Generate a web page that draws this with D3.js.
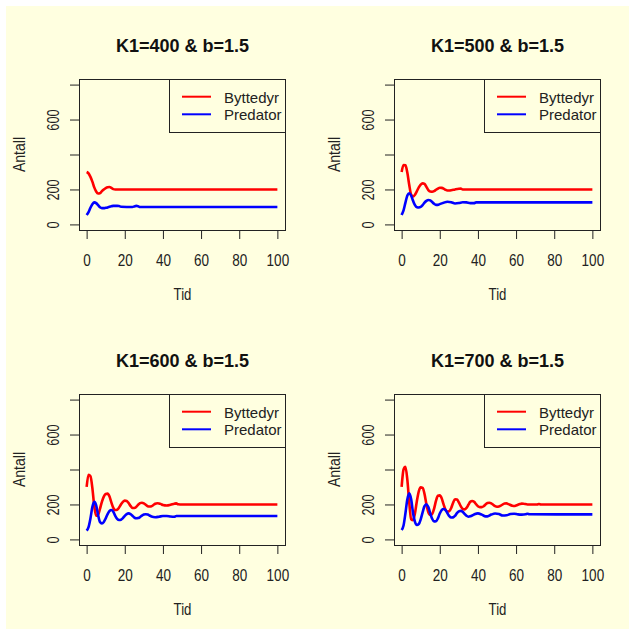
<!DOCTYPE html>
<html>
<head>
<meta charset="utf-8">
<script src="https://cdnjs.cloudflare.com/ajax/libs/d3/7.8.5/d3.min.js"></script>
<style>
  html, body { margin: 0; padding: 0; background: #fff; }
  svg { display: block; font-family: "Liberation Sans", Arial, sans-serif; }
</style>
</head>
<body>
<div id="chart"></div>
<script>
// panel titles, axis ticks, legend
const titles = ['K1=400 & b=1.5', 'K1=500 & b=1.5', 'K1=600 & b=1.5', 'K1=700 & b=1.5'];
const xTicks = [0, 20, 40, 60, 80, 100];
const yTicks = [0, 200, 400, 600, 800];
const yLabelled = [0, 200, 600];
const seriesNames = ['Byttedyr', 'Predator'];
const seriesColors = ['#ff0000', '#0000ff'];

// [tid, antall]
const prey400 = [[0,300],[1,292],[2,272],[3,245],[4,212],[5,188],[6,177],[7,178],[8,190],[9,200],[10,208],[11,213],[12,214],[13,209],[14,202],[15,200],[20,200],[100,200]];
const pred400 = [[0,54],[1,70],[2,95],[3,115],[4,126],[5,122],[6,110],[7,98],[8,93],[9,93],[10,95],[11,97],[12,101],[13,104],[14,106],[16,106],[17,105],[18,101],[24,100],[25,103],[26,106],[27,104],[28,100],[100,100]];

const prey500 = [[0,300],[1,340],[2,338],[3,295],[4,225],[5,170],[6,160],[7,170],[8,190],[9,212],[10,228],[11,235],[12,232],[13,215],[14,196],[15,188],[16,187],[17,190],[18,198],[19,205],[20,210],[21,209],[22,205],[23,198],[24,194],[25,194],[26,195],[28,200],[30,204],[31,205],[32,200],[100,200]];
const pred500 = [[0,54],[1,80],[2,125],[3,165],[4,178],[5,165],[6,135],[7,110],[8,98],[9,97],[10,100],[11,110],[12,125],[13,135],[14,140],[15,137],[16,128],[17,118],[18,112],[19,112],[20,116],[22,124],[24,130],[26,127],[28,120],[30,122],[32,127],[34,126],[36,122],[38,122],[39,126],[100,126]];

const prey600 = [[0,300],[1,370],[2,362],[3,295],[4,190],[5,135],[6,140],[7,175],[8,215],[9,245],[10,260],[11,262],[12,245],[13,210],[14,180],[15,168],[16,170],[17,182],[18,200],[19,215],[20,222],[21,220],[22,208],[23,192],[24,180],[25,180],[26,186],[27,198],[28,207],[29,210],[30,206],[31,198],[32,190],[33,188],[34,190],[35,197],[36,204],[37,207],[38,206],[39,202],[40,197],[42,194],[44,198],[46,204],[47,206],[48,201],[50,200],[100,200]];
const pred600 = [[0,50],[1,70],[2,120],[3,185],[4,215],[5,195],[6,140],[7,100],[8,92],[9,100],[10,120],[11,145],[12,163],[13,168],[14,158],[15,135],[16,118],[17,111],[18,113],[19,122],[20,135],[21,145],[22,149],[23,145],[24,135],[25,125],[26,121],[27,122],[28,128],[29,136],[30,142],[31,144],[32,142],[33,137],[34,131],[36,127],[38,130],[40,134],[42,134],[44,131],[46,130],[47,134],[100,134]];

const prey700 = [[0,300],[1,400],[2,415],[3,340],[4,210],[5,115],[6,110],[7,150],[8,220],[9,275],[10,298],[11,295],[12,260],[13,200],[14,155],[15,140],[16,145],[17,175],[18,220],[19,250],[20,252],[21,235],[22,200],[23,170],[24,159],[25,162],[26,180],[27,210],[28,230],[29,228],[30,212],[31,190],[32,175],[33,172],[34,180],[35,198],[36,215],[37,220],[38,215],[39,202],[40,190],[41,185],[42,185],[43,190],[44,200],[45,208],[46,210],[47,206],[48,198],[49,190],[50,187],[51,188],[52,193],[54,205],[55,206],[56,202],[58,193],[59,191],[60,194],[62,202],[63,205],[64,204],[66,200],[71,200],[72,203],[73,200],[100,200]];
const pred700 = [[0,54],[1,80],[2,150],[3,230],[4,264],[5,230],[6,150],[7,100],[8,83],[9,88],[10,115],[11,155],[12,190],[13,201],[14,185],[15,150],[16,118],[17,103],[18,104],[19,120],[20,148],[21,168],[22,174],[23,168],[24,150],[25,133],[26,125],[27,126],[28,135],[29,150],[30,160],[31,163],[32,158],[33,146],[34,135],[35,130],[36,132],[38,143],[40,149],[42,142],[44,132],[45,132],[47,142],[49,148],[51,145],[53,137],[55,138],[57,145],[59,147],[61,143],[63,142],[65,144],[66,147],[67,144],[100,143]];

const panelSeries = [[prey400, pred400], [prey500, pred500], [prey600, pred600], [prey700, pred700]];

const width = 629;
const height = 629;
const cell = 315;
const box = { left: 79, right: 285, top: 79, bottom: 230 };
const ink = '#222';

const svg = d3.select('#chart')
  .append('svg')
  .attr('width', width)
  .attr('height', height);

svg.append('rect')
  .attr('x', 6).attr('y', 6)
  .attr('width', width - 6).attr('height', height - 6)
  .attr('fill', '#ffffe0');

const x = d3.scaleLinear().domain([-4, 104]).range([box.left, box.right]);
const y = d3.scaleLinear().domain([-32, 832]).range([box.bottom, box.top]);

const line = d3.line()
  .x(d => x(d[0]))
  .y(d => y(d[1]))
  .curve(d3.curveMonotoneX);

const drawPanel = (g, title, series) => {
  // series
  series.forEach((data, k) => {
    g.append('path')
      .datum(data)
      .attr('d', line)
      .attr('fill', 'none')
      .attr('stroke', seriesColors[k])
      .attr('stroke-width', 2.6)
      .attr('stroke-linejoin', 'round');
  });

  // x axis
  const xa = g.append('g')
    .attr('transform', `translate(0,${box.bottom})`)
    .call(d3.axisBottom(x).tickValues(xTicks).tickSize(9).tickSizeOuter(0))
    .attr('font-size', null).attr('font-family', null);
  xa.select('.domain').remove();
  xa.selectAll('line').attr('stroke', ink);
  xa.selectAll('text')
    .attr('y', 36).attr('dy', null)
    .attr('transform', 'scale(0.82,1)')
    .attr('fill', ink)
    .style('font-size', '16.5px');

  // y axis
  const ya = g.append('g')
    .attr('transform', `translate(${box.left},0)`)
    .call(d3.axisLeft(y).tickValues(yTicks).tickSize(9).tickSizeOuter(0)
      .tickFormat(d => yLabelled.includes(d) ? d : ''))
    .attr('font-size', null).attr('font-family', null);
  ya.select('.domain').remove();
  ya.selectAll('line').attr('stroke', ink);
  ya.selectAll('text')
    .attr('x', 0).attr('dy', null)
    .attr('transform', 'translate(-20,0) rotate(-90) scale(0.8,1)')
    .attr('text-anchor', 'middle')
    .attr('fill', ink)
    .style('font-size', '16px');

  // box
  g.append('rect')
    .attr('x', box.left + 0.5).attr('y', box.top + 0.5)
    .attr('width', box.right - box.left).attr('height', box.bottom - box.top)
    .attr('fill', 'none')
    .attr('stroke', ink);

  // labels
  const cx = (box.left + box.right) / 2 + 0.5;
  g.append('text')
    .attr('transform', `translate(${cx},51.7)`)
    .attr('text-anchor', 'middle')
    .style('font-size', '18px')
    .style('font-weight', 'bold')
    .attr('fill', '#111')
    .text(title);

  g.append('text')
    .attr('transform', `translate(${cx},300) scale(0.8,1)`)
    .attr('text-anchor', 'middle')
    .style('font-size', '16.5px')
    .attr('fill', ink)
    .text('Tid');

  g.append('text')
    .attr('transform', `translate(25,${(box.top + box.bottom) / 2}) rotate(-90) scale(0.85,1)`)
    .attr('text-anchor', 'middle')
    .style('font-size', '16.5px')
    .attr('fill', ink)
    .text('Antall');

  // legend
  g.append('rect')
    .attr('x', 169.5).attr('y', box.top + 0.5)
    .attr('width', box.right - 169).attr('height', 53)
    .attr('fill', '#ffffe0')
    .attr('stroke', ink);

  seriesNames.forEach((name, k) => {
    const ly = 96.7 + k * 17.6;
    g.append('line')
      .attr('x1', 182).attr('x2', 211)
      .attr('y1', ly).attr('y2', ly)
      .attr('stroke', seriesColors[k])
      .attr('stroke-width', 2);
    g.append('text')
      .attr('x', 224).attr('y', ly + 5.8)
      .style('font-size', '15px')
      .attr('fill', ink)
      .text(name);
  });
};

titles.forEach((title, i) => {
  const g = svg.append('g')
    .attr('transform', `translate(${(i % 2) * cell},${Math.floor(i / 2) * cell})`);
  drawPanel(g, title, panelSeries[i]);
});
</script>
</body>
</html>
